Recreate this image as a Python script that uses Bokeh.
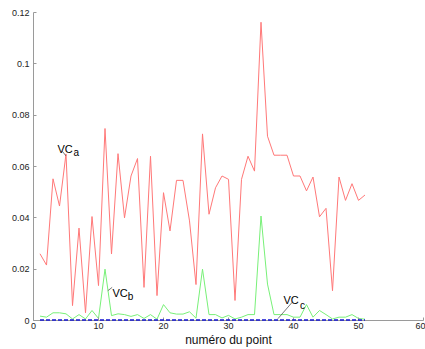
from bokeh.plotting import figure
from bokeh.models import FixedTicker, PrintfTickFormatter, Range1d
from bokeh.core.properties import value
from bokeh.embed import file_html
from bokeh.resources import INLINE

points = list(range(1, 52))
VCa = [0.026, 0.0216, 0.0552, 0.0446, 0.0649, 0.0058, 0.036, 0.003, 0.0405, 0.0136,
       0.0748, 0.0259, 0.065, 0.040, 0.0563, 0.0631, 0.0129, 0.064, 0.0097, 0.0498,
       0.0349, 0.0546, 0.0546, 0.0388, 0.014, 0.0727, 0.0414, 0.0517, 0.0563, 0.055,
       0.0078, 0.055, 0.064, 0.0582, 0.1162, 0.0718, 0.0644, 0.0644, 0.0644, 0.0563,
       0.0563, 0.0505, 0.0559, 0.0404, 0.0437, 0.0116, 0.0559, 0.0468, 0.0533, 0.0468, 0.0489]
VCb = [0.0017, 0.0013, 0.003, 0.003, 0.0026, 0.0006, 0.0023, 0.0006, 0.0039, 0.0008,
       0.020, 0.0019, 0.0026, 0.0023, 0.0016, 0.0023, 0.0008, 0.0023, 0.0005, 0.0062,
       0.003, 0.0025, 0.0025, 0.0034, 0.0009, 0.020, 0.0023, 0.0023, 0.001, 0.002,
       0.0006, 0.0013, 0.0023, 0.0023, 0.0407, 0.0142, 0.0023, 0.0023, 0.0023, 0.0013,
       0.0013, 0.0062, 0.0013, 0.0039, 0.0023, 0.0006, 0.0013, 0.0013, 0.0023, 0.0008, 0.0005]
VCc = [0.0002, 0.0002, 0.0002, 0.0002, 0.0002, 0.0002, 0.0002, 0.0002, 0.0002, 0.0002,
       0.0002, 0.0002, 0.0002, 0.0002, 0.0002, 0.0002, 0.0002, 0.0002, 0.0002, 0.0002,
       0.0002, 0.0002, 0.0002, 0.0002, 0.0002, 0.0002, 0.0002, 0.0002, 0.0002, 0.0002,
       0.0002, 0.0002, 0.0002, 0.0002, 0.0002, 0.0002, 0.0002, 0.0002, 0.0002, 0.0002,
       0.0002, 0.0002, 0.0002, 0.0002, 0.0002, 0.0002, 0.0002, 0.0002, 0.0002, 0.0002, 0.0002]
x_ticks = [0, 10, 20, 30, 40, 50, 60]
y_ticks = [0, 0.02, 0.04, 0.06, 0.08, 0.1, 0.12]
x_label = "numéro du point"

FONT = "Liberation Sans"

p = figure(width=425, height=349, output_backend="svg", toolbar_location=None,
           x_range=Range1d(0, 60), y_range=Range1d(0, 0.12),
           min_border_left=33, min_border_right=2, min_border_top=12, min_border_bottom=29)
p.outline_line_color = None
p.xgrid.visible = False
p.ygrid.visible = False
p.background_fill_color = "white"
p.border_fill_color = "white"

for ax in (p.xaxis[0], p.yaxis[0]):
    ax.axis_line_color = "#9a9a9a"
    ax.major_tick_line_color = "#9a9a9a"
    ax.major_tick_in = 3
    ax.major_tick_out = 0
    ax.minor_tick_line_color = None
    ax.major_label_text_font = FONT
    ax.major_label_text_font_size = "9px"
    ax.major_label_text_color = "#222222"
    ax.major_label_standoff = 3

p.xaxis.major_label_standoff = 2
p.yaxis.major_label_standoff = 4
p.xaxis.ticker = FixedTicker(ticks=x_ticks)
p.yaxis.ticker = FixedTicker(ticks=y_ticks)
p.yaxis.formatter = PrintfTickFormatter(format="%g")
p.xaxis.axis_label = x_label
p.xaxis.axis_label_text_font = FONT
p.xaxis.axis_label_text_font_size = "12px"
p.xaxis.axis_label_text_font_style = "normal"
p.xaxis.axis_label_text_color = "#111111"
p.xaxis.axis_label_standoff = 1

p.line(points, VCa, line_color="#ff7878", line_width=1)
p.line(points, VCb, line_color="#78f078", line_width=1)
p.line(points, VCc, line_color="#1414d2", line_width=1.6, line_dash="4 2", level="overlay")

# annotations: main text, subscript and leader lines
ann_x = [3.69, 12.15, 38.46]
ann_y = [0.0668, 0.0109, 0.0078]
sub_x = [6.15, 14.5, 41.0]
sub_y = [0.0655, 0.0093, 0.0058]
subs = ["a", "b", "c"]
lead_x0 = [4.42, 11.43, 39.8]
lead_y0 = [0.0660, 0.0116, 0.0071]
lead_x1 = [5.0, 12.1, 37.6]
lead_y1 = [0.0641, 0.0129, 0.0007]

p.text(x=ann_x, y=ann_y, text=["VC", "VC", "VC"], text_font=value(FONT),
       text_font_size="11px", text_color="black", text_baseline="alphabetic", text_align="left")
p.text(x=sub_x, y=sub_y, text=subs, text_font=value(FONT),
       text_font_size="10px", text_color="black", text_baseline="alphabetic", text_align="left")
p.segment(x0=lead_x0, y0=lead_y0, x1=lead_x1, y1=lead_y1, line_color="#555555", line_width=0.8)

open("out.html", "w").write(file_html(p, INLINE))
